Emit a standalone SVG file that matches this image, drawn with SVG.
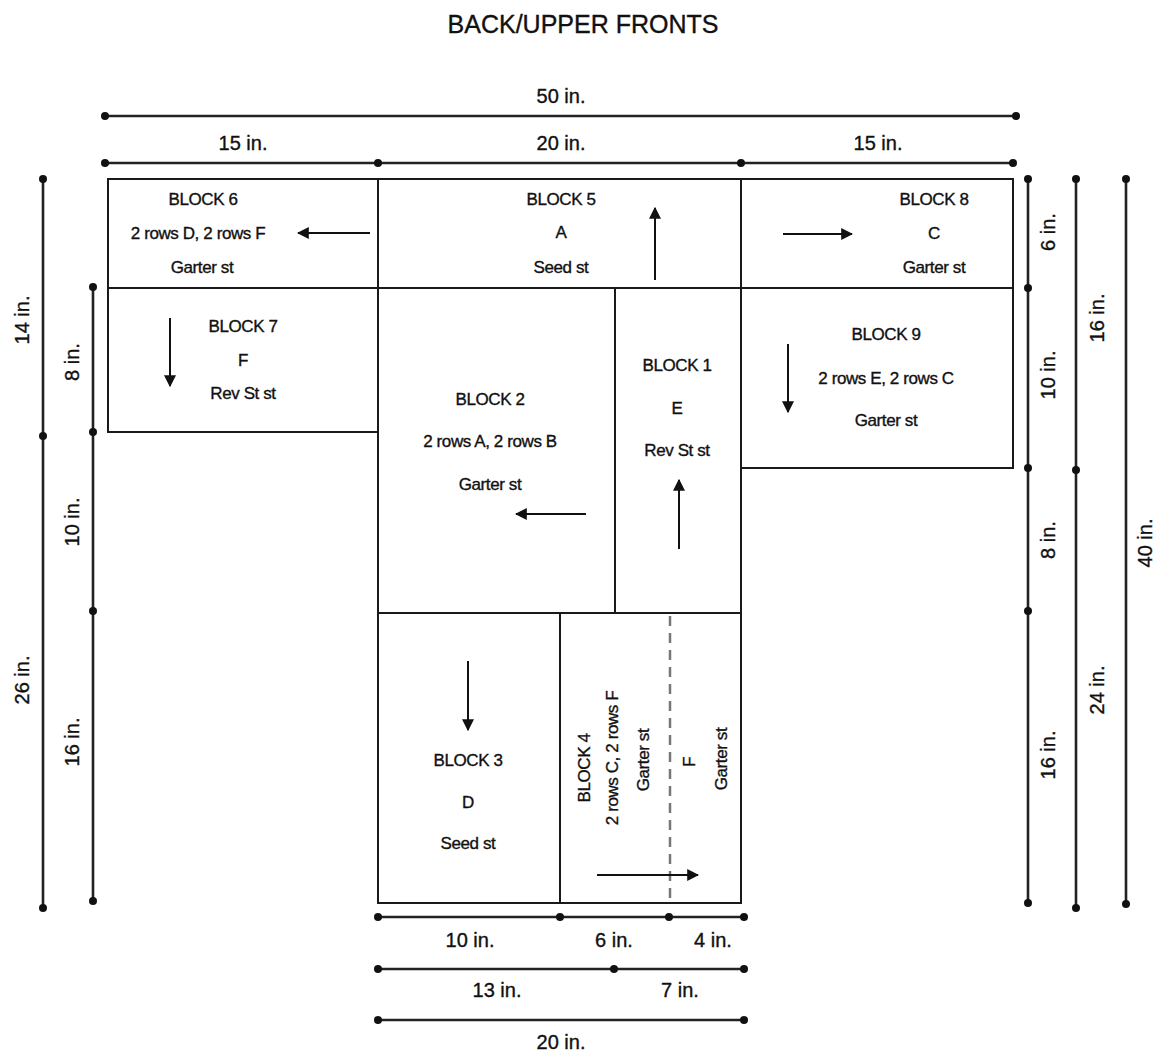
<svg xmlns="http://www.w3.org/2000/svg" width="1161" height="1055" viewBox="0 0 1161 1055">
<defs>
<style>
text{font-family:"Liberation Sans","Arial",sans-serif;fill:#111;stroke:#111;stroke-width:0.35;text-anchor:middle;dominant-baseline:central}
.title{font-size:25px}
.dim{font-size:20px}
.bt{font-size:17px;letter-spacing:-0.4px}
.box{fill:#fff;stroke:#1a1a1a;stroke-width:2}
.dl{stroke:#222;stroke-width:2.6;fill:none}
.dot{fill:#111}
.arr{stroke:#111;stroke-width:2;fill:none;marker-end:url(#ah)}
</style>
<marker id="ah" viewBox="0 0 10 10" refX="9" refY="5" markerWidth="12" markerHeight="12" markerUnits="userSpaceOnUse" orient="auto"><path d="M0,0 L10,5 L0,10 Z" fill="#111"/></marker>
</defs>
<rect width="1161" height="1055" fill="#fff"/>
<text class="title" x="583" y="24">BACK/UPPER FRONTS</text>

<g id="blocks">
<g id="block6"><rect class="box" x="108" y="179" width="270" height="109"/>
<text class="bt" x="203" y="199">BLOCK 6</text><text class="bt" x="198" y="233">2 rows D, 2 rows F</text><text class="bt" x="202" y="267">Garter st</text></g>
<g id="block5"><rect class="box" x="378" y="179" width="363" height="109"/>
<text class="bt" x="561" y="199">BLOCK 5</text><text class="bt" x="561" y="232">A</text><text class="bt" x="561" y="267">Seed st</text></g>
<g id="block8"><rect class="box" x="741" y="179" width="272" height="109"/>
<text class="bt" x="934" y="199">BLOCK 8</text><text class="bt" x="934" y="233">C</text><text class="bt" x="934" y="267">Garter st</text></g>
<g id="block7"><rect class="box" x="108" y="288" width="270" height="144"/>
<text class="bt" x="243" y="326">BLOCK 7</text><text class="bt" x="243" y="360">F</text><text class="bt" x="243" y="393">Rev St st</text></g>
<g id="block9"><rect class="box" x="741" y="288" width="272" height="180"/>
<text class="bt" x="886" y="334">BLOCK 9</text><text class="bt" x="886" y="378">2 rows E, 2 rows C</text><text class="bt" x="886" y="420">Garter st</text></g>
<g id="block2"><rect class="box" x="378" y="288" width="237" height="325"/>
<text class="bt" x="490" y="399">BLOCK 2</text><text class="bt" x="490" y="441">2 rows A, 2 rows B</text><text class="bt" x="490" y="484">Garter st</text></g>
<g id="block1"><rect class="box" x="615" y="288" width="126" height="325"/>
<text class="bt" x="677" y="365">BLOCK 1</text><text class="bt" x="677" y="408">E</text><text class="bt" x="677" y="450">Rev St st</text></g>
<g id="block3"><rect class="box" x="378" y="613" width="182" height="290"/>
<text class="bt" x="468" y="760">BLOCK 3</text><text class="bt" x="468" y="802">D</text><text class="bt" x="468" y="843">Seed st</text></g>
<g id="block4"><rect class="box" x="560" y="613" width="181" height="290"/>
<line x1="670" y1="616" x2="670" y2="898" stroke="#777" stroke-width="2.5" stroke-dasharray="10,7"/>
<text class="bt" transform="translate(584,768) rotate(-90)">BLOCK 4</text>
<text class="bt" transform="translate(612,758) rotate(-90)">2 rows C, 2 rows F</text>
<text class="bt" transform="translate(643,760) rotate(-90)">Garter st</text>
<text class="bt" transform="translate(689,762) rotate(-90)">F</text>
<text class="bt" transform="translate(721,759) rotate(-90)">Garter st</text></g>
</g>

<g id="arrows">
<line class="arr" x1="370" y1="233" x2="298" y2="233"/>
<line class="arr" x1="655" y1="280" x2="655" y2="208"/>
<line class="arr" x1="783" y1="234" x2="852" y2="234"/>
<line class="arr" x1="170" y1="318" x2="170" y2="386"/>
<line class="arr" x1="788" y1="344" x2="788" y2="412"/>
<line class="arr" x1="586" y1="514" x2="516" y2="514"/>
<line class="arr" x1="679" y1="549" x2="679" y2="480"/>
<line class="arr" x1="468" y1="661" x2="468" y2="730"/>
<line class="arr" x1="597" y1="875" x2="698" y2="875"/>
</g>

<g id="dimensions">
<line class="dl" x1="105" y1="116" x2="1016" y2="116"/>
<circle class="dot" cx="105" cy="116" r="4"/><circle class="dot" cx="1016" cy="116" r="4"/>
<text class="dim" x="561" y="96">50 in.</text>
<line class="dl" x1="105" y1="163" x2="1013" y2="163"/>
<circle class="dot" cx="105" cy="163" r="4"/><circle class="dot" cx="378" cy="163" r="4"/><circle class="dot" cx="741" cy="163" r="4"/><circle class="dot" cx="1013" cy="163" r="4"/>
<text class="dim" x="243" y="143">15 in.</text><text class="dim" x="561" y="143">20 in.</text><text class="dim" x="878" y="143">15 in.</text>

<line class="dl" x1="43" y1="179" x2="43" y2="908"/>
<circle class="dot" cx="43" cy="179" r="4"/><circle class="dot" cx="43" cy="436" r="4"/><circle class="dot" cx="43" cy="908" r="4"/>
<text class="dim" transform="translate(22,320) rotate(-90)">14 in.</text>
<text class="dim" transform="translate(22,680) rotate(-90)">26 in.</text>
<line class="dl" x1="93" y1="287" x2="93" y2="901"/>
<circle class="dot" cx="93" cy="287" r="4"/><circle class="dot" cx="93" cy="432" r="4"/><circle class="dot" cx="93" cy="611" r="4"/><circle class="dot" cx="93" cy="901" r="4"/>
<text class="dim" transform="translate(72,362) rotate(-90)">8 in.</text>
<text class="dim" transform="translate(72,522) rotate(-90)">10 in.</text>
<text class="dim" transform="translate(72,742) rotate(-90)">16 in.</text>

<line class="dl" x1="1028" y1="179" x2="1028" y2="903"/>
<circle class="dot" cx="1028" cy="179" r="4"/><circle class="dot" cx="1028" cy="288" r="4"/><circle class="dot" cx="1028" cy="468" r="4"/><circle class="dot" cx="1028" cy="611" r="4"/><circle class="dot" cx="1028" cy="903" r="4"/>
<text class="dim" transform="translate(1048,232) rotate(-90)">6 in.</text>
<text class="dim" transform="translate(1048,375) rotate(-90)">10 in.</text>
<text class="dim" transform="translate(1048,540) rotate(-90)">8 in.</text>
<text class="dim" transform="translate(1048,755) rotate(-90)">16 in.</text>
<line class="dl" x1="1076" y1="179" x2="1076" y2="908"/>
<circle class="dot" cx="1076" cy="179" r="4"/><circle class="dot" cx="1076" cy="470" r="4"/><circle class="dot" cx="1076" cy="908" r="4"/>
<text class="dim" transform="translate(1097,318) rotate(-90)">16 in.</text>
<text class="dim" transform="translate(1097,690) rotate(-90)">24 in.</text>
<line class="dl" x1="1126" y1="179" x2="1126" y2="904"/>
<circle class="dot" cx="1126" cy="179" r="4"/><circle class="dot" cx="1126" cy="904" r="4"/>
<text class="dim" transform="translate(1145,543) rotate(-90)">40 in.</text>

<line class="dl" x1="378" y1="917" x2="744" y2="917"/>
<circle class="dot" cx="378" cy="917" r="4"/><circle class="dot" cx="560" cy="917" r="4"/><circle class="dot" cx="669" cy="917" r="4"/><circle class="dot" cx="744" cy="917" r="4"/>
<text class="dim" x="470" y="940">10 in.</text><text class="dim" x="614" y="940">6 in.</text><text class="dim" x="713" y="940">4 in.</text>
<line class="dl" x1="378" y1="969" x2="744" y2="969"/>
<circle class="dot" cx="378" cy="969" r="4"/><circle class="dot" cx="614" cy="969" r="4"/><circle class="dot" cx="744" cy="969" r="4"/>
<text class="dim" x="497" y="990">13 in.</text><text class="dim" x="680" y="990">7 in.</text>
<line class="dl" x1="378" y1="1020" x2="744" y2="1020"/>
<circle class="dot" cx="378" cy="1020" r="4"/><circle class="dot" cx="744" cy="1020" r="4"/>
<text class="dim" x="561" y="1042">20 in.</text>
</g>
</svg>
